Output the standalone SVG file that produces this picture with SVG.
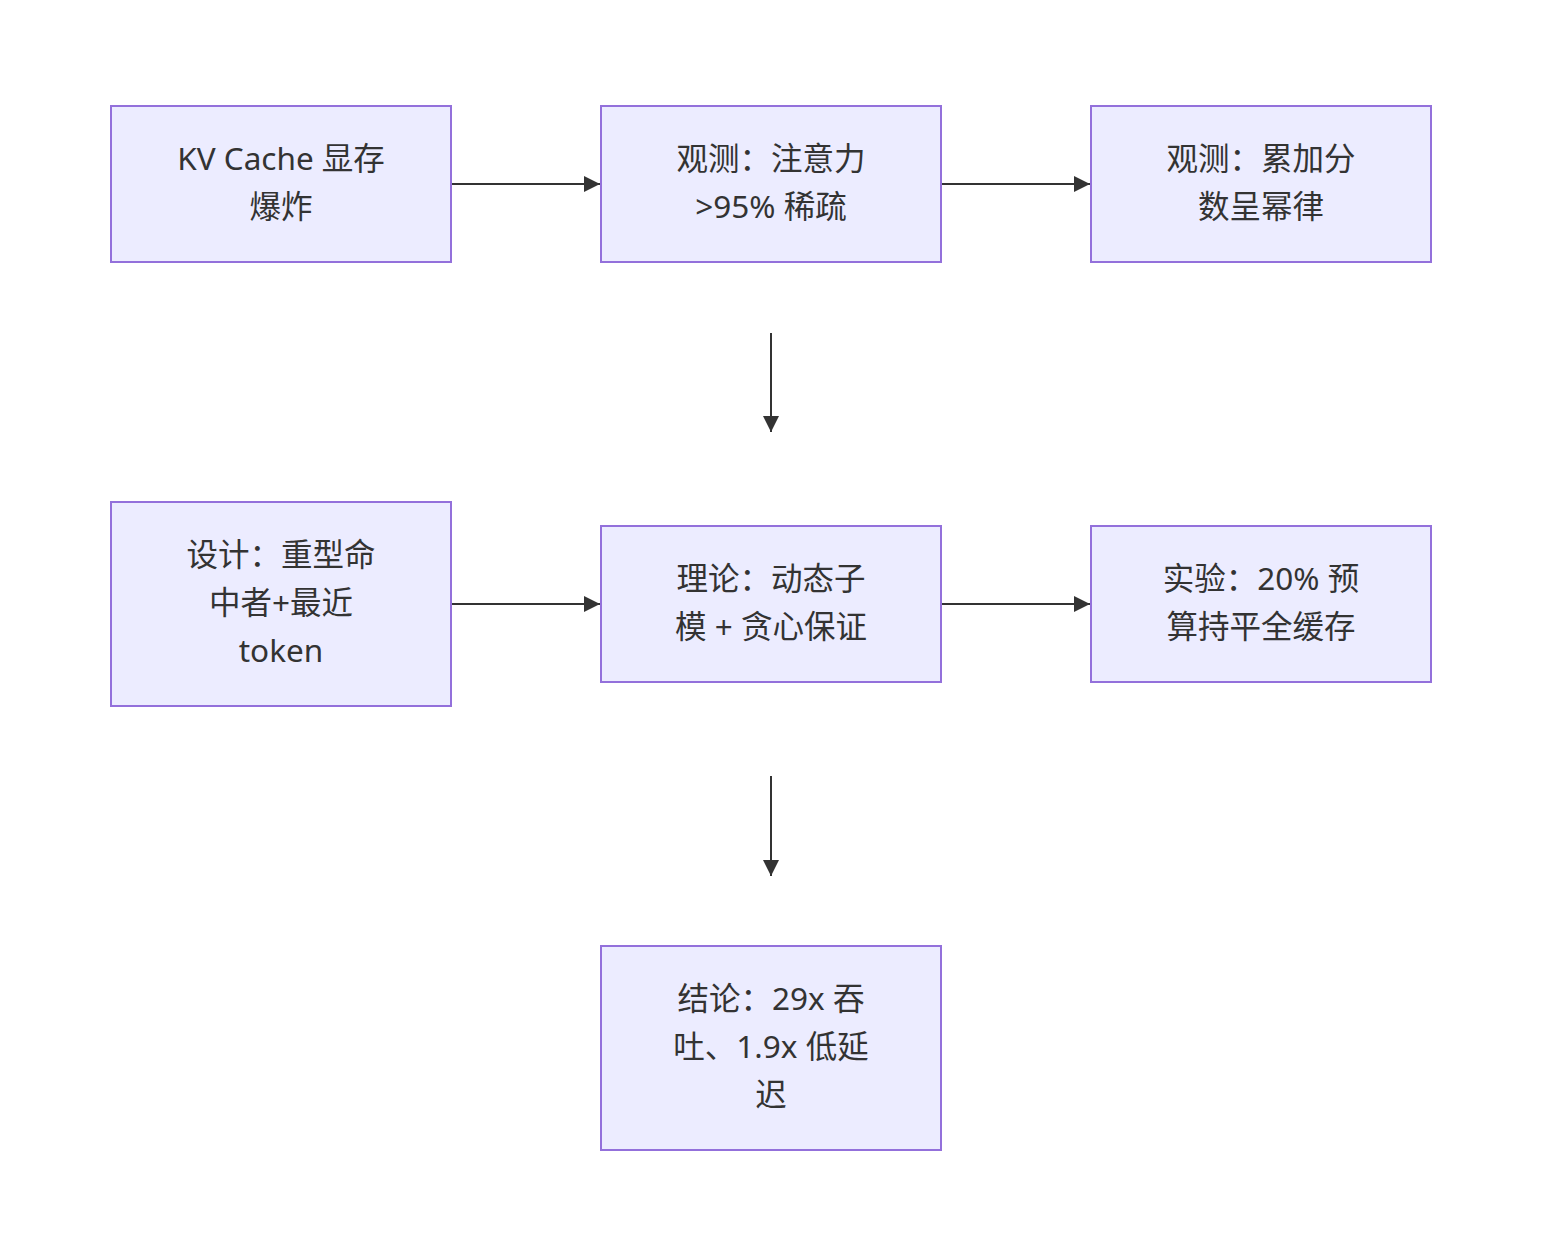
<svg xmlns="http://www.w3.org/2000/svg" width="1542" height="1256" viewBox="0 0 1542 1256">
<style>
.node rect{fill:#ECECFF;stroke:#9370DB;stroke-width:2}
.node text{font-family:"Noto Sans","Noto Sans CJK SC",sans-serif;font-size:31.5px;fill:#333;text-anchor:middle;dominant-baseline:central}
.edge{stroke:#333;stroke-width:2;fill:none}
</style>
<defs>
<marker id="arrow" viewBox="0 0 16 16" refX="16" refY="8" markerWidth="16" markerHeight="16" markerUnits="userSpaceOnUse" orient="auto">
<path d="M0,0 L16,8 L0,16 z" fill="#333"/>
</marker>
</defs>
<rect width="1542" height="1256" fill="#fff"/>
<g id="connectors">
<path class="edge" d="M452,184 L600,184" marker-end="url(#arrow)"/>
<path class="edge" d="M942,184 L1090,184" marker-end="url(#arrow)"/>
<path class="edge" d="M771,333 L771,432" marker-end="url(#arrow)"/>
<path class="edge" d="M452,604 L600,604" marker-end="url(#arrow)"/>
<path class="edge" d="M942,604 L1090,604" marker-end="url(#arrow)"/>
<path class="edge" d="M771,776 L771,876" marker-end="url(#arrow)"/>
</g>
<g id="n1" class="node"><rect x="111" y="106" width="340" height="156"/><text x="281" y="157">KV Cache 显存</text><text x="281" y="205">爆炸</text></g>
<g id="n2" class="node"><rect x="601" y="106" width="340" height="156"/><text x="771" y="157">观测：注意力</text><text x="771" y="205">&gt;95% 稀疏</text></g>
<g id="n3" class="node"><rect x="1091" y="106" width="340" height="156"/><text x="1261" y="157">观测：累加分</text><text x="1261" y="205">数呈幂律</text></g>
<g id="n4" class="node"><rect x="111" y="502" width="340" height="204"/><text x="281" y="553">设计：重型命</text><text x="281" y="601">中者+最近</text><text x="281" y="649">token</text></g>
<g id="n5" class="node"><rect x="601" y="526" width="340" height="156"/><text x="771" y="577">理论：动态子</text><text x="771" y="625">模 + 贪心保证</text></g>
<g id="n6" class="node"><rect x="1091" y="526" width="340" height="156"/><text x="1261" y="577">实验：20% 预</text><text x="1261" y="625">算持平全缓存</text></g>
<g id="n7" class="node"><rect x="601" y="946" width="340" height="204"/><text x="771" y="997">结论：29x 吞</text><text x="771" y="1045">吐、1.9x 低延</text><text x="771" y="1093">迟</text></g>
</svg>
